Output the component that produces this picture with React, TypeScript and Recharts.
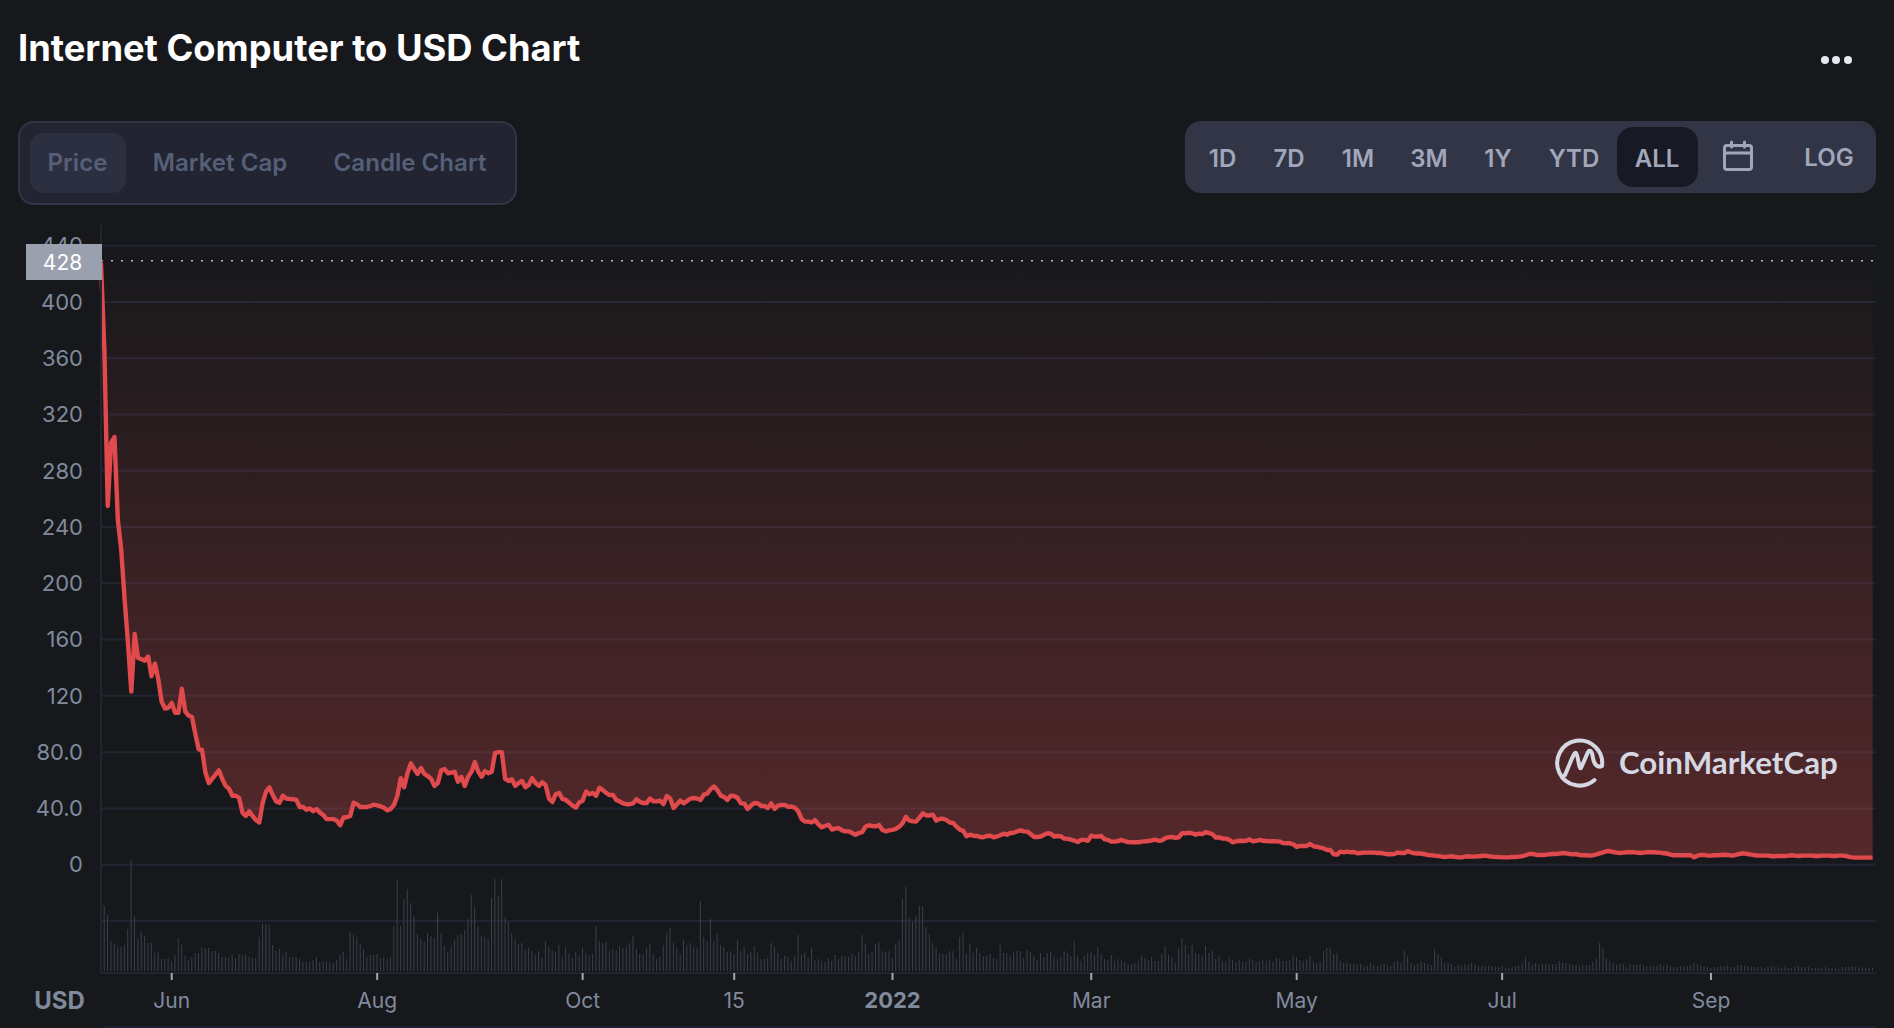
import { Area, Bar, CartesianGrid, ComposedChart, ReferenceLine, XAxis, YAxis } from "recharts";

// x is days since the first trading day, 11 May 2021
const tickDays = [21, 82, 143, 188, 235, 294, 355, 416, 478];
const tickLabels = ["Jun", "Aug", "Oct", "15", "2022", "Mar", "May", "Jul", "Sep"];
const priceTicks = [-40, 0, 40, 80, 120, 160, 200, 240, 280, 320, 360, 400, 440];

const priceValues = [
  428, 366, 255, 300, 304, 245, 224, 189, 158, 123, 164, 147, 146, 145, 148, 134, 143, 132, 116, 111,
  111.5, 115, 108, 108, 125, 109, 106, 105, 93, 82, 81.5, 65.5, 58, 61, 64, 67, 61, 56, 54, 49,
  49, 47.5, 37, 34.6, 38, 34.6, 31.7, 30, 44, 52, 55, 49.5, 45, 44, 49, 47, 46.7, 46.5, 46, 41,
  41, 39, 40, 38, 39.5, 37, 35.3, 32.4, 32.4, 32.4, 31.3, 28, 33.5, 33.7, 34.6, 44, 43, 41, 41, 41,
  41.7, 42.7, 42.2, 41.5, 40.5, 38.6, 39.6, 42.5, 49, 61.5, 55, 65, 72, 68, 64.5, 68.7, 64.5, 63, 61, 56,
  58, 67, 68, 65, 65.5, 66, 59, 62.5, 56, 62.5, 66, 73, 66, 62.5, 66.5, 65, 66, 79.3, 80, 80,
  61, 59.5, 60.7, 56, 58, 59.5, 55, 56.7, 61.5, 58, 56, 58.6, 56.7, 47, 44.5, 50, 51, 46.7, 46, 44,
  42, 40.5, 44.3, 45.5, 52, 50, 51, 49, 54.7, 53, 51, 49.5, 49.5, 46, 45, 43.6, 43, 43, 43.6, 46.5,
  44.6, 43.8, 43.8, 47, 45, 45, 45.5, 43, 48.8, 47, 40.3, 43, 45.5, 43.6, 45.3, 47, 47.4, 47, 46, 49.8,
  50.5, 53.6, 55.5, 53, 49, 48, 46, 49, 48.8, 47.4, 43.6, 43.4, 39.6, 42, 43.8, 43.6, 41.7, 41.7, 40.3, 43.6,
  39.6, 42, 42.4, 42.4, 41.2, 41.2, 40.5, 38, 32.5, 30.6, 30.6, 30, 31.7, 28.7, 26.6, 27.5, 28.4, 25, 25.6, 26,
  24.4, 23.7, 23.7, 22.5, 21.3, 22.5, 23.2, 27, 28, 27.5, 27.2, 28.2, 24.7, 23.7, 24.4, 24.7, 25.4, 27, 29.4, 34,
  31.3, 30.8, 30.6, 33.4, 36.5, 35, 35, 35.5, 31.3, 32.5, 32.7, 31.7, 30, 29.6, 27, 24.9, 24, 20.2, 21.3, 20.6,
  20.4, 19.7, 19.5, 20.4, 20.6, 19.5, 20, 20.9, 22, 21.3, 22.5, 22.7, 23.7, 24.4, 23.7, 23.5, 21.8, 19.7, 19.7, 20,
  21.3, 22.3, 22, 20, 20.4, 20.2, 18.5, 18.3, 17.8, 17, 16.1, 17.6, 17.6, 17, 20.6, 20, 20, 20.4, 18, 17.6,
  16.4, 16.4, 16.8, 17.6, 16.6, 16.1, 15.9, 15.9, 15.9, 16.4, 16.6, 16.8, 17.3, 17.8, 17, 17.3, 18.8, 19.5, 19.7, 19,
  19.5, 22.3, 22.3, 22.7, 22.3, 21.3, 22, 21.8, 23.2, 22.5, 21.6, 19.2, 19.4, 18.5, 18.5, 17.6, 15.9, 16.6, 17, 16.8,
  17, 18, 16.6, 17, 17.6, 17, 16.8, 16.6, 16.6, 16.6, 16.4, 15.3, 15.2, 15.2, 14.5, 12.6, 13.3, 13.3, 13.3, 14.7,
  13.1, 12.6, 12.1, 11.6, 10.4, 10.4, 7.4, 7.1, 9.3, 8.8, 9.3, 8.8, 9, 8.1, 8.3, 8.6, 8.6, 8.6, 8.6, 8.3,
  8.3, 7.9, 7.4, 7.4, 7.6, 8.6, 8.3, 8.3, 9.7, 8.6, 8.1, 7.9, 7.9, 7.4, 6.9, 6.7, 6.4, 6.2, 5.7, 5.5,
  5.7, 6, 5.5, 5.2, 5.2, 5.7, 6, 5.7, 5.7, 6, 6.2, 6.4, 6, 5.7, 5.5, 5.5, 5.2, 5.2, 5.2, 5.5,
  5.5, 5.7, 6, 6.7, 7.6, 7.6, 7.1, 6.9, 6.9, 7.1, 7.4, 7.6, 7.6, 7.9, 8.1, 8.1, 7.6, 7.4, 7.4, 6.9,
  6.7, 6.7, 6.4, 6.7, 7.4, 8.1, 8.8, 9.5, 9.7, 9, 8.6, 8.3, 8.6, 8.8, 8.8, 8.8, 8.6, 8.3, 8.6, 8.8,
  8.8, 8.8, 8.6, 8.6, 8.1, 7.9, 7.1, 6.7, 6.7, 6.7, 6.7, 6.7, 6.7, 5.2, 6.4, 6.9, 6.9, 6.4, 6.4, 6.7,
  6.7, 6.9, 7.1, 6.9, 6.4, 6.7, 7.4, 7.9, 7.9, 7.6, 7.1, 6.7, 6.4, 6.4, 6.4, 6.4, 6, 6, 6.2, 6.2,
  6.2, 6.4, 6.7, 6.4, 6.2, 6.4, 6.4, 6.4, 6.4, 6.2, 6.2, 6.4, 6.4, 6.4, 6.2, 6.2, 6.4, 6.4, 6.2, 5.5,
  5.2, 5, 5, 5, 5, 5, 5.2,
];

const volumeValues = [
  105, 65, 56, 30, 27, 24, 24, 26, 42, 111, 55, 32, 39, 35, 28, 28, 18, 19, 12, 12,
  13, 10, 16, 33, 26, 15, 11, 14, 18, 18, 24, 23, 23, 20, 20, 18, 14, 14, 13, 16,
  13, 17, 16, 17, 14, 13, 13, 34, 47, 47, 46, 26, 20, 22, 16, 19, 14, 14, 14, 12,
  9, 9, 9, 11, 14, 9, 9, 9, 9, 8, 11, 16, 19, 12, 39, 36, 34, 27, 22, 14,
  16, 16, 17, 13, 14, 12, 14, 45, 91, 45, 72, 82, 68, 55, 37, 32, 29, 38, 35, 33,
  58, 38, 25, 19, 24, 31, 36, 37, 41, 52, 76, 64, 45, 35, 34, 32, 73, 92, 75, 92,
  54, 49, 38, 32, 27, 28, 21, 23, 20, 16, 20, 13, 30, 24, 21, 19, 26, 14, 24, 18,
  13, 19, 15, 23, 18, 16, 17, 45, 30, 28, 29, 20, 22, 21, 25, 23, 24, 28, 35, 22,
  17, 17, 23, 27, 17, 12, 14, 26, 38, 43, 28, 23, 17, 31, 26, 28, 24, 23, 70, 34,
  30, 52, 30, 37, 26, 24, 19, 20, 17, 31, 20, 24, 17, 19, 25, 18, 12, 12, 13, 28,
  24, 18, 12, 15, 14, 10, 15, 36, 16, 18, 13, 23, 11, 12, 10, 9, 13, 10, 16, 12,
  15, 14, 14, 17, 15, 19, 36, 27, 17, 19, 27, 29, 20, 19, 20, 13, 27, 31, 72, 84,
  53, 49, 55, 65, 65, 44, 37, 28, 24, 17, 17, 17, 20, 20, 12, 34, 38, 17, 27, 18,
  23, 18, 15, 15, 17, 13, 12, 26, 18, 18, 15, 19, 20, 20, 13, 21, 19, 15, 11, 18,
  14, 18, 19, 14, 12, 14, 20, 18, 15, 30, 15, 10, 15, 18, 19, 16, 24, 17, 12, 11,
  16, 10, 12, 11, 9, 7, 7, 8, 10, 15, 13, 11, 14, 10, 10, 17, 25, 16, 13, 8,
  23, 33, 26, 17, 26, 18, 17, 15, 25, 18, 20, 12, 15, 10, 10, 14, 11, 9, 11, 9,
  9, 12, 11, 9, 10, 11, 10, 11, 9, 13, 12, 10, 10, 11, 16, 14, 11, 10, 12, 15,
  10, 8, 9, 20, 23, 23, 17, 18, 10, 8, 8, 7, 7, 6, 7, 5, 5, 8, 6, 5,
  6, 7, 5, 5, 9, 10, 8, 20, 15, 8, 6, 7, 9, 8, 7, 6, 22, 17, 14, 8,
  8, 7, 4, 6, 5, 7, 6, 8, 6, 5, 5, 5, 5, 5, 4, 4, 5, 3, 3, 4,
  5, 5, 8, 14, 9, 6, 8, 6, 7, 7, 6, 7, 7, 10, 8, 8, 7, 6, 6, 5,
  6, 6, 6, 9, 12, 28, 23, 13, 10, 8, 6, 7, 7, 4, 7, 6, 6, 7, 5, 5,
  5, 5, 5, 7, 5, 7, 5, 4, 4, 5, 5, 5, 6, 8, 7, 6, 5, 4, 3, 4,
  4, 5, 5, 6, 4, 4, 6, 6, 5, 5, 4, 4, 4, 4, 3, 4, 5, 4, 4, 3,
  4, 3, 3, 5, 5, 4, 4, 4, 3, 3, 3, 3, 4, 3, 3, 3, 2, 4, 4, 4,
  5, 4, 4, 3, 3, 3, 3,
];

const chartData = priceValues.map((price, i) => ({ day: i, price, volume: volumeValues[i] }));

const rangeLabels = ["1D", "7D", "1M", "3M", "1Y", "YTD", "ALL"];
const rangeCenters = [1222.5, 1289, 1358, 1429, 1498, 1574, 1657];
const tabLabels = ["Price", "Market Cap", "Candle Chart"];
const tabCenters = [77.5, 220, 410];

const FONT = "Inter, sans-serif";

function formatPrice(v: number) {
  if (v < 0) return "";
  if (v === 0) return "0";
  return v < 100 ? v.toFixed(1) : String(v);
}

function DateTick({ x, y, payload }: any) {
  const i = tickDays.indexOf(payload.value);
  const label = tickLabels[i];
  const bold = label === "2022";
  return (
    <text
      x={x}
      y={y + 26}
      textAnchor="middle"
      fontFamily={FONT}
      fontSize={bold ? 22 : 21}
      fontWeight={bold ? 700 : 400}
      fill="#808a9d"
    >
      {label}
    </text>
  );
}

function Caption({ x, y, size, weight, color, children }: any) {
  return (
    <span
      style={{
        position: "absolute",
        left: x,
        top: y,
        transform: "translate(-50%, -50%)",
        fontFamily: FONT,
        fontSize: size,
        fontWeight: weight,
        color,
        whiteSpace: "nowrap",
        lineHeight: 1,
      }}
    >
      {children}
    </span>
  );
}

function Box({ x, y, w, h, r, bg, border }: any) {
  return (
    <div
      style={{
        position: "absolute",
        left: x,
        top: y,
        width: w,
        height: h,
        borderRadius: r,
        background: bg,
        border,
        boxSizing: "border-box",
      }}
    />
  );
}

function Watermark() {
  return (
    <>
      <svg
        width={60}
        height={60}
        viewBox="-30 -30 60 60"
        style={{ position: "absolute", left: 1550, top: 731 }}
      >
        <path
          d="M 14.5 19 A 22.5 22.5 0 1 1 22 5 C 18 7 14 4 13 -3 C 12 -10 10 -12 8 -9 L 1 7 C -1 10 -2 -7 -4 -8 C -6 -10 -12 8 -15 14"
          fill="none"
          stroke="#d5d8e3"
          strokeWidth={4}
          strokeLinecap="round"
          strokeLinejoin="round"
        />
      </svg>
      <span
        style={{
          position: "absolute",
          left: 1619,
          top: 744,
          fontFamily: "Lato, sans-serif",
          fontSize: 31.3,
          fontWeight: 700,
          color: "#d5d8e3",
          lineHeight: "36px",
          whiteSpace: "nowrap",
        }}
      >
        CoinMarketCap
      </span>
    </>
  );
}

function CalendarIcon() {
  return (
    <svg
      width={32}
      height={32}
      viewBox="0 0 32 32"
      style={{ position: "absolute", left: 1722, top: 140 }}
      fill="none"
      stroke="#a1a7bb"
      strokeWidth={3}
      strokeLinecap="round"
    >
      <rect x={2.5} y={5.5} width={27} height={24} rx={2.5} />
      <line x1={2.5} y1={13} x2={29.5} y2={13} />
      <line x1={9.5} y1={2} x2={9.5} y2={7} />
      <line x1={22.5} y1={2} x2={22.5} y2={7} />
    </svg>
  );
}

export default function App() {
  return (
    <div
      style={{
        position: "absolute",
        left: 0,
        top: 0,
        width: 1894,
        height: 1028,
        overflow: "hidden",
        background: "#17181b",
      }}
    >
      <ComposedChart
        width={1894}
        height={1028}
        data={chartData}
        margin={{ top: 225, right: 18, bottom: 0, left: 0 }}
        style={{ position: "absolute", left: 0, top: 0 }}
      >
        <defs>
          <linearGradient id="priceFill" x1="0" y1="0" x2="0" y2="1">
            <stop offset="0%" stopColor="#ea4f4f" stopOpacity={0} />
            <stop offset="100%" stopColor="#ea4f4f" stopOpacity={0.3} />
          </linearGradient>
        </defs>
        <CartesianGrid
          vertical={false}
          stroke="#222531"
          strokeWidth={2}
          yAxisId="price"
          horizontalValues={priceTicks}
        />
        <XAxis
          dataKey="day"
          type="number"
          domain={[0, 527]}
          ticks={tickDays}
          height={55}
          interval={0}
          axisLine={{ stroke: "#222531", strokeWidth: 2 }}
          tickLine={{ stroke: "#a1a7bb", strokeWidth: 2 }}
          tickSize={7}
          tick={DateTick}
        />
        <YAxis
          yAxisId="price"
          width={101}
          type="number"
          domain={[-77, 454.7]}
          allowDataOverflow
          ticks={priceTicks}
          interval={0}
          tickFormatter={formatPrice}
          tickLine={false}
          tickMargin={12}
          axisLine={{ stroke: "#222531", strokeWidth: 2 }}
          tick={{ fontFamily: FONT, fontSize: 22, fill: "#808a9d" }}
        />
        <YAxis yAxisId="volume" hide domain={[-2, 746]} allowDataOverflow />
        <Bar
          yAxisId="volume"
          dataKey="volume"
          fill="#3c3e4e"
          barSize={1}
          isAnimationActive={false}
        />
        <Area
          yAxisId="price"
          type="linear"
          dataKey="price"
          baseValue={440}
          stroke="#e04a4d"
          strokeWidth={4.4}
          strokeLinejoin="round"
          fill="url(#priceFill)"
          fillOpacity={1}
          dot={false}
          activeDot={false}
          isAnimationActive={false}
        />
        <ReferenceLine
          yAxisId="price"
          y={429.3}
          stroke="#b9bcc6"
          strokeWidth={1.6}
          strokeDasharray="2 8"
        />
      </ComposedChart>

      <span
        style={{
          position: "absolute",
          left: 18,
          top: 26,
          fontFamily: FONT,
          fontSize: 36.3,
          fontWeight: 700,
          color: "#fff",
          lineHeight: "44px",
          whiteSpace: "nowrap",
        }}
      >
        Internet Computer to USD Chart
      </span>
      <Box x={1821} y={56} w={8} h={8} r={4} bg="#e6e8f0" />
      <Box x={1832} y={56} w={8} h={8} r={4} bg="#e6e8f0" />
      <Box x={1844} y={56} w={8} h={8} r={4} bg="#e6e8f0" />

      <Box x={18} y={121} w={499} h={84} r={16} bg="#222531" border="2px solid #323546" />
      <Box x={30} y={133} w={96} h={60} r={14} bg="#2c2f3f" />
      {tabLabels.map((label, i) => (
        <Caption key={label} x={tabCenters[i]} y={163} size={24.1} weight={600} color="#555f77">
          {label}
        </Caption>
      ))}

      <Box x={1185} y={121} w={691} h={72} r={16} bg="#323546" />
      <Box x={1617} y={127} w={81} h={60} r={16} bg="#171924" />
      {rangeLabels.map((label, i) => (
        <Caption key={label} x={rangeCenters[i]} y={159} size={24} weight={600} color="#a1a7bb">
          {label}
        </Caption>
      ))}
      <Caption x={1829} y={158} size={24} weight={600} color="#a1a7bb">
        LOG
      </Caption>
      <CalendarIcon />

      <Box x={26} y={244} w={76} h={36} r={0} bg="#9aa0ad" />
      <Caption x={62.5} y={262} size={21} weight={400} color="#fff">
        428
      </Caption>

      <Watermark />

      <Caption x={59.5} y={1001} size={24} weight={700} color="#808a9d">
        USD
      </Caption>
      <Box x={104} y={1026} w={1772} h={2} r={0} bg="#1f2230" />
    </div>
  );
}
